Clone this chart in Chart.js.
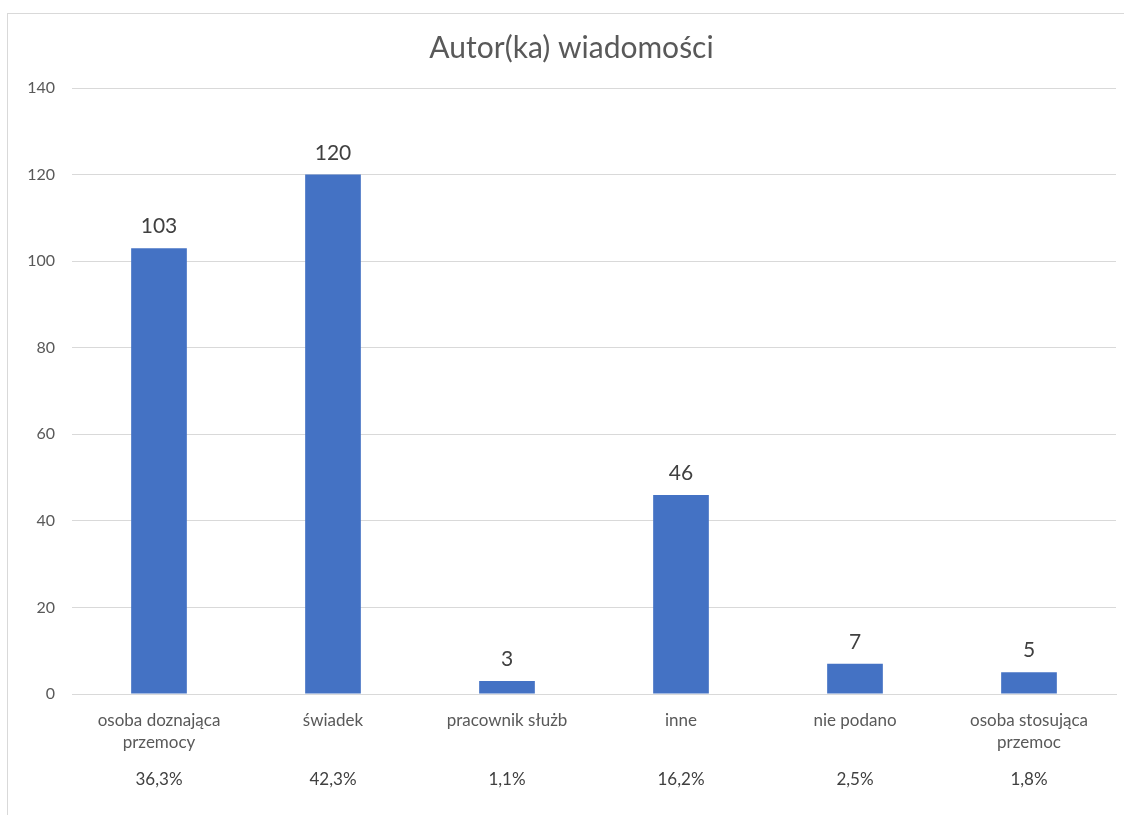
<!DOCTYPE html>
<html>
<head>
<meta charset="utf-8">
<script src="https://cdn.jsdelivr.net/npm/chart.js@4"></script>
<style>
  html, body { margin: 0; padding: 0; background: #fff; overflow: hidden; }
  #frame { position: absolute; left: 7px; top: 13px; width: 1130px; height: 820px; border: 1px solid #d9d9d9; }
  #wrap { position: absolute; left: 0; top: 0; width: 1124px; height: 815px; }
</style>
</head>
<body>
<div id="frame"></div>
<div id="wrap"><canvas id="authorChart"></canvas></div>
<script>
// data
const categories = [['osoba doznająca', 'przemocy'], 'świadek', 'pracownik służb', 'inne', 'nie podano', ['osoba stosująca', 'przemoc']];
const counts = [103, 120, 3, 46, 7, 5];
const shares = ['36,3%', '42,3%', '1,1%', '16,2%', '2,5%', '1,8%'];
const yMin = 0, yMax = 140, yStep = 20;

const fontFamily = 'Lato, "Open Sans", sans-serif';

// value on top of each bar
const valueLabels = {
    id: 'valueLabels',
    afterDatasetsDraw(chart) {
        const ctx = chart.ctx;
        const meta = chart.getDatasetMeta(0);
        ctx.save();
        ctx.font = '21px ' + fontFamily;
        ctx.fillStyle = '#404040';
        ctx.textAlign = 'center';
        ctx.textBaseline = 'alphabetic';
        meta.data.forEach((bar, i) => {
            ctx.fillText(counts[i], bar.x, bar.y - 15);
        });
        ctx.restore();
    }
};

// percentage row under the category labels
const shareRow = {
    id: 'shareRow',
    afterDraw(chart) {
        const ctx = chart.ctx;
        const x = chart.scales.x;
        ctx.save();
        ctx.font = '17px ' + fontFamily;
        ctx.fillStyle = '#404040';
        ctx.textAlign = 'center';
        ctx.textBaseline = 'middle';
        shares.forEach((s, i) => {
            ctx.fillText(s, x.getPixelForValue(i), 780);
        });
        ctx.restore();
    }
};

var ctx = document.getElementById('authorChart').getContext('2d');
var authorChart = new Chart(ctx, {
    type: 'bar',
    data: {
        labels: categories,
        datasets: [{
            data: counts,
            backgroundColor: '#4472c4',
            borderWidth: 0,
            categoryPercentage: 1,
            barPercentage: 0.32
        }]
    },
    options: {
        responsive: true,
        maintainAspectRatio: false,
        animation: false,
        layout: { padding: { left: 27, right: 8, top: 0, bottom: 0 } },
        plugins: {
            legend: { display: false },
            tooltip: { enabled: false },
            title: {
                display: true,
                text: 'Autor(ka) wiadomości',
                color: '#595959',
                font: { family: fontFamily, size: 30, weight: 'normal', lineHeight: 1.2 },
                padding: { top: 30, bottom: 22 }
            }
        },
        scales: {
            x: {
                grid: { display: false, drawTicks: false },
                border: { color: '#d9d9d9', width: 1 },
                ticks: {
                    color: '#595959',
                    font: { family: fontFamily, size: 17, lineHeight: 1.3 },
                    padding: 15,
                    maxRotation: 0,
                    autoSkip: false
                },
                afterFit(scale) { scale.height = 121; }
            },
            y: {
                min: yMin,
                max: yMax,
                grid: { color: '#d9d9d9', drawTicks: false },
                border: { display: false },
                ticks: {
                    stepSize: yStep,
                    color: '#595959',
                    font: { family: fontFamily, size: 16 },
                    padding: 17
                },
                afterFit(scale) { scale.width = 45; }
            }
        }
    },
    plugins: [valueLabels, shareRow]
});
</script>
</body>
</html>
